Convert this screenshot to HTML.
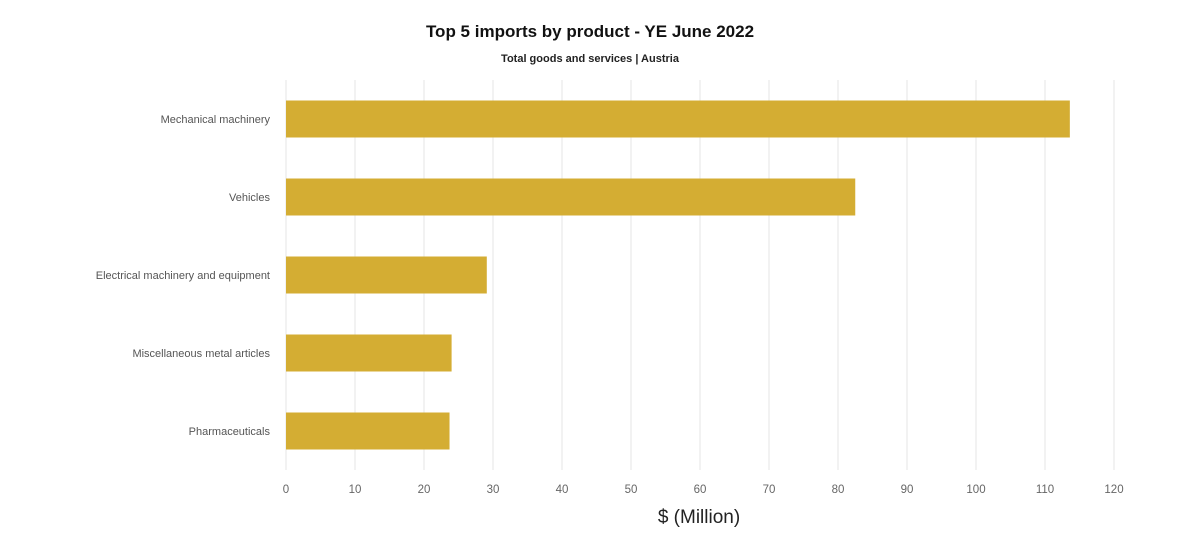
<!DOCTYPE html>
<html><head><meta charset="utf-8"><style>
body{margin:0;background:#fff;font-family:"Liberation Sans",sans-serif;}
</style></head><body>
<svg width="1200" height="549" xmlns="http://www.w3.org/2000/svg" id="c">
<text x="590" y="37" text-anchor="middle" font-size="17" font-weight="bold" fill="#111">Top 5 imports by product - YE June 2022</text>
<text x="590" y="62" text-anchor="middle" font-size="11" font-weight="bold" fill="#222">Total goods and services | Austria</text>
<g id="grid"></g><g id="bars"></g><g id="ylab"></g><g id="xlab"></g>
<text x="699" y="523" text-anchor="middle" font-size="19" fill="#222">$ (Million)</text>
</svg>
<script>
const categories=["Mechanical machinery","Vehicles","Electrical machinery and equipment","Miscellaneous metal articles","Pharmaceuticals"];
const values=[113.6,82.5,29.1,24.0,23.7];
const ticks=[0,10,20,30,40,50,60,70,80,90,100,110,120];
const x0=286,x1=1114,xmax=120,yTop=80,yBottom=470;
const xs=v=>x0+(x1-x0)*v/xmax;
const band=(yBottom-yTop)/categories.length;
const ns="http://www.w3.org/2000/svg";
function mk(t,a,p){const e=document.createElementNS(ns,t);for(const k in a)e.setAttribute(k,a[k]);document.getElementById(p).appendChild(e);return e;}
ticks.forEach(t=>{
 const l=mk('line',{x1:xs(t),x2:xs(t),y1:yTop,y2:yBottom,stroke:'#e6e6e6','stroke-width':1},'grid');
 
 
 const tx=mk('text',{x:xs(t),y:493,'text-anchor':'middle','font-size':11.5,fill:'#666'},'xlab');
 tx.textContent=t;
 
 
});
categories.forEach((c,i)=>{
 const cy=yTop+band*(i+0.5);
 const r=mk('rect',{x:x0,y:cy-18.5,width:xs(values[i])-x0,height:37,fill:'#D4AD33'},'bars');
 
 
 const t=mk('text',{x:270,y:cy+4,'text-anchor':'end','font-size':11,fill:'#555'},'ylab');
 t.textContent=c;
 
 
});
</script>
</body></html>
